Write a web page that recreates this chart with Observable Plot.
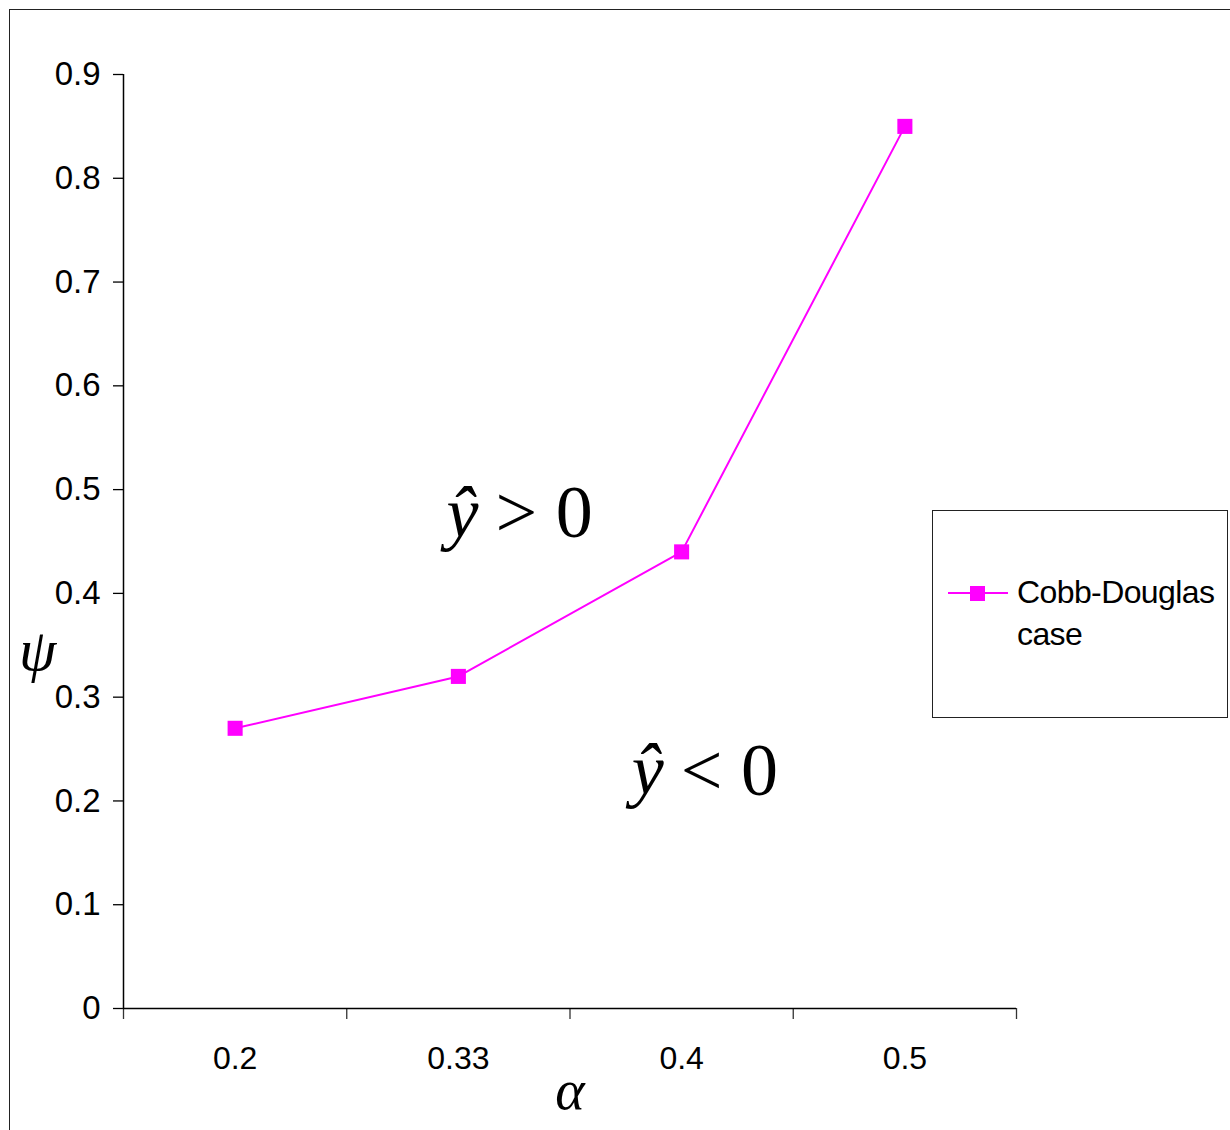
<!DOCTYPE html>
<html>
<head>
<meta charset="utf-8">
<script src="https://cdn.jsdelivr.net/npm/d3@7"></script>
<script src="https://cdn.jsdelivr.net/npm/@observablehq/plot@0.6"></script>
<style>
  html, body { margin: 0; padding: 0; background: #fff; overflow: hidden; }
  #wrap { position: relative; width: 1230px; height: 1130px; }
  #border { position: absolute; left: 9px; top: 9px; width: 1240px; height: 1140px; border: 1.5px solid #222; pointer-events: none; }
  #legend { position: absolute; left: 932px; top: 510px; width: 294px; height: 206px; border: 1.5px solid #222; background: #fff; }
  #legend svg { position: absolute; left: 0; top: 0; }
  #legend .lbl { position: absolute; left: 84px; top: 60px; font-family: "Liberation Sans", Arial, sans-serif; font-size: 32px; line-height: 42px; color: #000; letter-spacing: -0.6px; }
</style>
</head>
<body>
<div id="wrap">
  <div id="chart"></div>
  <div id="border"></div>
  <div id="legend"></div>
</div>
<script>
// ---- data ----
const alphaLabels = ["0.2", "0.33", "0.4", "0.5"];
const psiValues = [0.27, 0.32, 0.44, 0.85];
const yTicks = [0, 0.1, 0.2, 0.3, 0.4, 0.5, 0.6, 0.7, 0.8, 0.9];
const seriesName = ["Cobb-Douglas", "case"];
const annotations = [
  {x: 1.63, y: 0.477, rel: "> 0"},
  {x: 2.46, y: 0.229, rel: "< 0"}
];
const xAxisLabel = "α";
const yAxisLabel = "ψ";

// ---- derived table ----
const data = alphaLabels.map((a, i) => ({idx: i + 0.5, alpha: a, psi: psiValues[i]}));
const boundaries = d3.range(alphaLabels.length + 1);
const centers = data.map(d => d.idx);
const magenta = "#FF00FF";
const sans = "'Liberation Sans', Arial, sans-serif";
const serif = "'Liberation Serif', 'Times New Roman', serif";

const chart = Plot.plot({
  width: 1230,
  height: 1130,
  marginLeft: 123,
  marginRight: 214,
  marginTop: 74,
  marginBottom: 122,
  style: {background: "#fff", fontFamily: sans},
  x: {type: "linear", domain: [0, alphaLabels.length]},
  y: {domain: [0, 0.9]},
  marks: [
    Plot.axisY({ticks: yTicks, tickSize: 10, tickPadding: 13, fontSize: 33, tickFormat: d => d3.format(".1~f")(d), label: null, stroke: "#000", strokeWidth: 1.3}),
    Plot.axisX({ticks: boundaries, tickSize: 11, tickFormat: () => "", label: null, stroke: "#333", strokeWidth: 1.3}),
    Plot.axisX({ticks: centers, tickSize: 0, tickPadding: 38, fontSize: 32, tickFormat: d => alphaLabels[Math.round(d - 0.5)], label: null}),
    Plot.ruleX([0], {y1: 0, y2: 0.9, stroke: "#000", strokeWidth: 1.5}),
    Plot.ruleY([0], {stroke: "#000", strokeWidth: 1.5}),
    Plot.line(data, {x: "idx", y: "psi", stroke: magenta, strokeWidth: 2}),
    Plot.dot(data, {x: "idx", y: "psi", symbol: "square", r: 8.5, fill: magenta, stroke: "none"}),
    Plot.text(annotations, {x: "x", y: "y", text: () => "ŷ", textAnchor: "end", dx: -9, fontFamily: serif, fontStyle: "italic", fontSize: 72, fill: "#000"}),
    Plot.text(annotations, {x: "x", y: "y", text: "rel", textAnchor: "start", dx: 8, fontFamily: serif, fontSize: 74, fill: "#000", style: "white-space: pre"}),
    Plot.text([yAxisLabel], {x: 0, y: 0.345, dx: -86, text: d => d, fontFamily: serif, fontStyle: "italic", fontSize: 60, fill: "#000"}),
    Plot.text([xAxisLabel], {x: 2, y: 0, dy: 83, text: d => d, fontFamily: serif, fontStyle: "italic", fontSize: 56, fill: "#000"})
  ]
});
document.getElementById("chart").appendChild(chart);

// ---- legend ----
const legend = d3.select("#legend");
const sw = legend.append("svg").attr("width", 80).attr("height", 120);
sw.append("line").attr("x1", 15).attr("x2", 75).attr("y1", 82).attr("y2", 82).attr("stroke", magenta).attr("stroke-width", 2);
sw.append("rect").attr("x", 37).attr("y", 75).attr("width", 15).attr("height", 15).attr("fill", magenta);
legend.append("div").attr("class", "lbl").html(seriesName.join("<br>"));
</script>
</body>
</html>
